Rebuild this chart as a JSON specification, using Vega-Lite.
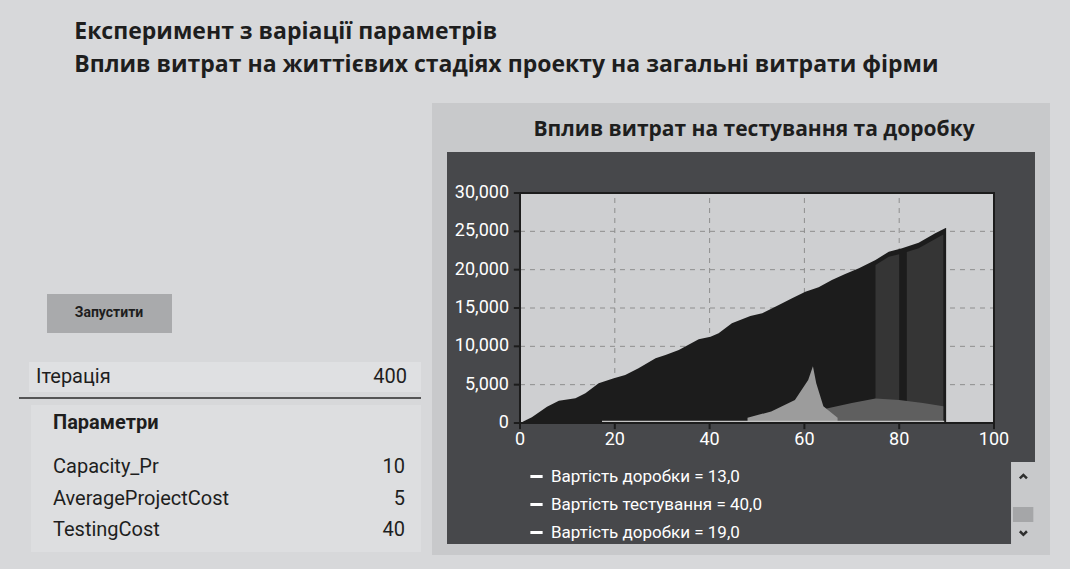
{
  "$schema": "https://vega.github.io/schema/vega-lite/v6.json",
  "background": "#d7d8da",
  "padding": {"left": 18, "top": 21, "right": 22, "bottom": 14},
  "autosize": {"type": "pad"},
  "config": {"view": {"stroke": null}, "font": "Roboto", "text": {"font": "Roboto", "color": "#1e1e1e"}},
  "title": {
    "text": ["Експеримент з варіації параметрів", "Вплив витрат на життієвих стадіях проекту на загальні витрати фірми"],
    "anchor": "start", "dx": 56, "offset": 26, "fontSize": 23, "fontWeight": "bold", "font": "Open Sans", "color": "#1e1e1e", "lineHeight": 33
  },
  "spacing": 10,
  "hconcat": [
    {
      "width": 402,
      "height": 452,
      "layer": [
        {
          "data": {"values": [{"label": "Ітерація", "value": 400}]},
          "layer": [
            {"mark": {"type": "rect", "color": "#a9aaac"},
             "encoding": {"x": {"datum": 28, "type": "quantitative", "scale": {"domain": [0, 402], "nice": false, "zero": false}, "axis": null}, "x2": {"datum": 153},
                          "y": {"datum": 191, "type": "quantitative", "scale": {"domain": [0, 452], "reverse": true, "nice": false, "zero": false}, "axis": null}, "y2": {"datum": 230}}},
            {"mark": {"type": "text", "text": "Запустити", "fontSize": 14, "fontWeight": "bold", "align": "center", "baseline": "middle"},
             "encoding": {"x": {"datum": 90, "type": "quantitative", "axis": null}, "y": {"datum": 210, "type": "quantitative", "axis": null}}},
            {"mark": {"type": "rect", "color": "#dfe0e2"},
             "encoding": {"x": {"datum": 10, "type": "quantitative", "axis": null}, "x2": {"datum": 402}, "y": {"datum": 259, "type": "quantitative", "axis": null}, "y2": {"datum": 289}}},
            {"mark": {"type": "text", "fontSize": 20, "align": "left", "baseline": "middle"},
             "encoding": {"x": {"datum": 17, "type": "quantitative", "axis": null}, "y": {"datum": 274, "type": "quantitative", "axis": null}, "text": {"field": "label"}}},
            {"mark": {"type": "text", "fontSize": 20, "align": "right", "baseline": "middle"},
             "encoding": {"x": {"datum": 388, "type": "quantitative", "axis": null}, "y": {"datum": 274, "type": "quantitative", "axis": null}, "text": {"field": "value"}}},
            {"mark": {"type": "rule", "color": "#2a2a2a", "strokeWidth": 1.5},
             "encoding": {"x": {"datum": 0, "type": "quantitative", "axis": null}, "x2": {"datum": 402}, "y": {"datum": 295, "type": "quantitative", "axis": null}}},
            {"mark": {"type": "rect", "color": "#dddee0"},
             "encoding": {"x": {"datum": 12, "type": "quantitative", "axis": null}, "x2": {"datum": 402}, "y": {"datum": 302, "type": "quantitative", "axis": null}, "y2": {"datum": 449}}},
            {"mark": {"type": "text", "text": "Параметри", "fontSize": 20, "fontWeight": "bold", "align": "left", "baseline": "middle"},
             "encoding": {"x": {"datum": 34, "type": "quantitative", "axis": null}, "y": {"datum": 320, "type": "quantitative", "axis": null}}}
          ]
        },
        {
          "data": {"values": [
            {"param": "Capacity_Pr", "value": 10},
            {"param": "AverageProjectCost", "value": 5},
            {"param": "TestingCost", "value": 40}
          ]},
          "layer": [
            {"transform": [{"filter": {"field": "param", "equal": "Capacity_Pr"}}],
             "mark": {"type": "text", "fontSize": 20, "align": "left", "baseline": "middle"},
             "encoding": {"x": {"datum": 34, "type": "quantitative", "axis": null}, "y": {"datum": 364, "type": "quantitative", "axis": null}, "text": {"field": "param"}}},
            {"transform": [{"filter": {"field": "param", "equal": "Capacity_Pr"}}],
             "mark": {"type": "text", "fontSize": 20, "align": "right", "baseline": "middle"},
             "encoding": {"x": {"datum": 386, "type": "quantitative", "axis": null}, "y": {"datum": 364, "type": "quantitative", "axis": null}, "text": {"field": "value"}}},
            {"transform": [{"filter": {"field": "param", "equal": "AverageProjectCost"}}],
             "mark": {"type": "text", "fontSize": 20, "align": "left", "baseline": "middle"},
             "encoding": {"x": {"datum": 34, "type": "quantitative", "axis": null}, "y": {"datum": 395.5, "type": "quantitative", "axis": null}, "text": {"field": "param"}}},
            {"transform": [{"filter": {"field": "param", "equal": "AverageProjectCost"}}],
             "mark": {"type": "text", "fontSize": 20, "align": "right", "baseline": "middle"},
             "encoding": {"x": {"datum": 386, "type": "quantitative", "axis": null}, "y": {"datum": 395.5, "type": "quantitative", "axis": null}, "text": {"field": "value"}}},
            {"transform": [{"filter": {"field": "param", "equal": "TestingCost"}}],
             "mark": {"type": "text", "fontSize": 20, "align": "left", "baseline": "middle"},
             "encoding": {"x": {"datum": 34, "type": "quantitative", "axis": null}, "y": {"datum": 427, "type": "quantitative", "axis": null}, "text": {"field": "param"}}},
            {"transform": [{"filter": {"field": "param", "equal": "TestingCost"}}],
             "mark": {"type": "text", "fontSize": 20, "align": "right", "baseline": "middle"},
             "encoding": {"x": {"datum": 386, "type": "quantitative", "axis": null}, "y": {"datum": 427, "type": "quantitative", "axis": null}, "text": {"field": "value"}}}
          ]
        }
      ]
    },
    {
      "width": 618,
      "height": 452,
      "view": {"fill": "#c8c9cb", "stroke": null},
      "title": {"text": "Вплив витрат на тестування та доробку", "fontSize": 21, "fontWeight": "bold", "font": "Open Sans", "color": "#1e1e1e", "anchor": "middle", "offset": -37, "dx": 13},
      "layer": [
        {
          "data": {"values": [{"panel": "chart"}]},
          "layer": [
            {"mark": {"type": "rect", "color": "#47484b"},
             "encoding": {"x": {"datum": -15.4, "type": "quantitative", "scale": {"domain": [-18.565, 111.814], "nice": false, "zero": false}, "axis": null}, "x2": {"datum": 108.65},
                          "y": {"datum": -5087, "type": "quantitative", "scale": {"domain": [-17217, 41739], "nice": false, "zero": false}, "axis": null}, "y2": {"datum": 35348}}},
            {"mark": {"type": "rect", "color": "#47484b"},
             "encoding": {"x": {"datum": -15.4, "type": "quantitative", "axis": null}, "x2": {"datum": 103.59}, "y": {"datum": -15783, "type": "quantitative", "axis": null}, "y2": {"datum": -5087}}},
            {"mark": {"type": "rect", "color": "#a5a6a8"},
             "encoding": {"x": {"datum": 104.0, "type": "quantitative", "axis": null}, "x2": {"datum": 108.3}, "y": {"datum": -10957, "type": "quantitative", "axis": null}, "y2": {"datum": -12913}}},
            {"mark": {"type": "point", "shape": "M-1,0.5L0,-0.5L1,0.5", "filled": false, "size": 50, "strokeWidth": 2.5, "color": "#2e2e2e", "opacity": 1},
             "encoding": {"x": {"datum": 106.2, "type": "quantitative", "axis": null}, "y": {"datum": -7000, "type": "quantitative", "axis": null}}},
            {"mark": {"type": "point", "shape": "M-1,-0.5L0,0.5L1,-0.5", "filled": false, "size": 50, "strokeWidth": 2.5, "color": "#2e2e2e", "opacity": 1},
             "encoding": {"x": {"datum": 106.2, "type": "quantitative", "axis": null}, "y": {"datum": -14350, "type": "quantitative", "axis": null}}},
            {"mark": {"type": "rect", "color": "#cecfd1"},
             "encoding": {"x": {"datum": 0, "type": "quantitative", "axis": null}, "x2": {"datum": 100}, "y": {"datum": 0, "type": "quantitative", "axis": null}, "y2": {"datum": 30000}}}
          ]
        },
        {
          "data": {"values": [{"v": 20}, {"v": 40}, {"v": 60}, {"v": 80}]},
          "mark": {"type": "rule", "color": "#8e8e8e", "strokeDash": [5, 5], "strokeWidth": 1},
          "encoding": {"x": {"field": "v", "type": "quantitative", "axis": null}, "y": {"datum": 0, "type": "quantitative", "axis": null}, "y2": {"datum": 30000}}
        },
        {
          "data": {"values": [{"v": 5000}, {"v": 10000}, {"v": 15000}, {"v": 20000}, {"v": 25000}]},
          "mark": {"type": "rule", "color": "#8e8e8e", "strokeDash": [5, 5], "strokeWidth": 1},
          "encoding": {"y": {"field": "v", "type": "quantitative", "axis": null}, "x": {"datum": 0, "type": "quantitative", "axis": null}, "x2": {"datum": 100}}
        },
        {
          "data": {"values": [{"v": 0}, {"v": 20}, {"v": 40}, {"v": 60}, {"v": 80}, {"v": 100}]},
          "layer": [
            {"mark": {"type": "rule", "color": "#1c1c1c", "strokeWidth": 2},
             "encoding": {"x": {"field": "v", "type": "quantitative", "axis": null}, "y": {"datum": 0, "type": "quantitative", "axis": null}, "y2": {"datum": -800}}},
            {"mark": {"type": "text", "color": "#ffffff", "fontSize": 18, "font": "Roboto", "align": "center", "baseline": "top", "dy": 8},
             "encoding": {"x": {"field": "v", "type": "quantitative", "axis": null}, "y": {"datum": 0, "type": "quantitative", "axis": null}, "text": {"field": "v", "type": "quantitative"}}}
          ]
        },
        {
          "data": {"values": [{"v": 0}, {"v": 5000}, {"v": 10000}, {"v": 15000}, {"v": 20000}, {"v": 25000}, {"v": 30000}]},
          "layer": [
            {"mark": {"type": "rule", "color": "#1c1c1c", "strokeWidth": 2},
             "encoding": {"y": {"field": "v", "type": "quantitative", "axis": null}, "x": {"datum": 0, "type": "quantitative", "axis": null}, "x2": {"datum": -1.3}}},
            {"mark": {"type": "text", "color": "#ffffff", "fontSize": 18, "font": "Roboto", "align": "right", "baseline": "middle", "dx": -11},
             "encoding": {"y": {"field": "v", "type": "quantitative", "axis": null}, "x": {"datum": 0, "type": "quantitative", "axis": null}, "text": {"field": "v", "type": "quantitative", "format": ","}}}
          ]
        },
        {
          "data": {"values": [
            {"series": "Вартість доробки = 13,0", "x": 0, "y": 0},
            {"series": "Вартість доробки = 13,0", "x": 20, "y": 4500},
            {"series": "Вартість доробки = 13,0", "x": 40, "y": 9500},
            {"series": "Вартість доробки = 13,0", "x": 60, "y": 14500},
            {"series": "Вартість доробки = 13,0", "x": 80, "y": 19000},
            {"series": "Вартість доробки = 13,0", "x": 89, "y": 21000},
            {"series": "Вартість тестування = 40,0", "x": 0, "y": 0},
            {"series": "Вартість тестування = 40,0", "x": 20, "y": 4000},
            {"series": "Вартість тестування = 40,0", "x": 40, "y": 9000},
            {"series": "Вартість тестування = 40,0", "x": 60, "y": 14000},
            {"series": "Вартість тестування = 40,0", "x": 80, "y": 18500},
            {"series": "Вартість тестування = 40,0", "x": 89, "y": 20500},
            {"series": "Вартість доробки = 19,0", "x": 0, "y": 0},
            {"series": "Вартість доробки = 19,0", "x": 20, "y": 3500},
            {"series": "Вартість доробки = 19,0", "x": 40, "y": 8500},
            {"series": "Вартість доробки = 19,0", "x": 60, "y": 13500},
            {"series": "Вартість доробки = 19,0", "x": 80, "y": 18000},
            {"series": "Вартість доробки = 19,0", "x": 89, "y": 20000}
          ]},
          "mark": {"type": "line", "strokeWidth": 1},
          "encoding": {
            "x": {"field": "x", "type": "quantitative", "axis": null},
            "y": {"field": "y", "type": "quantitative", "axis": null},
            "color": {"field": "series", "type": "nominal",
                      "scale": {"domain": ["Вартість доробки = 13,0", "Вартість тестування = 40,0", "Вартість доробки = 19,0"], "range": ["#ffffff", "#ffffff", "#ffffff"]},
                      "legend": {"orient": "none", "legendX": 509, "legendY": 365, "title": null, "padding": 0,
                                 "labelColor": "#ffffff", "labelFont": "Roboto", "labelFontSize": 17, "labelOffset": 6, "labelLimit": 0,
                                 "symbolType": "stroke", "symbolStrokeWidth": 3, "symbolSize": 150, "rowPadding": 10}}
          }
        },
        {
          "data": {"values": [
            {"x": 0, "y": 0}, {"x": 2.5, "y": 740}, {"x": 5.7, "y": 2130}, {"x": 8.2, "y": 2910}, {"x": 11.7, "y": 3220},
            {"x": 13.8, "y": 3870}, {"x": 16.6, "y": 5180}, {"x": 19.8, "y": 5830}, {"x": 22.2, "y": 6260}, {"x": 25, "y": 7130},
            {"x": 28.6, "y": 8430}, {"x": 30.7, "y": 8870}, {"x": 33.5, "y": 9520}, {"x": 37.7, "y": 10910}, {"x": 40.2, "y": 11260},
            {"x": 41.9, "y": 11700}, {"x": 44.7, "y": 13000}, {"x": 48.6, "y": 13960}, {"x": 51.1, "y": 14300}, {"x": 54.6, "y": 15390},
            {"x": 57.4, "y": 16260}, {"x": 60.2, "y": 17130}, {"x": 63, "y": 17700}, {"x": 65.8, "y": 18650}, {"x": 68.6, "y": 19430},
            {"x": 71.5, "y": 20170}, {"x": 75, "y": 21260}, {"x": 77.8, "y": 22340}, {"x": 80.6, "y": 22780}, {"x": 84.1, "y": 23520},
            {"x": 87.6, "y": 24740}, {"x": 89.9, "y": 25480}
          ]},
          "mark": {"type": "area", "color": "#1c1c1c"},
          "encoding": {
            "x": {"field": "x", "type": "quantitative", "axis": null},
            "y": {"field": "y", "type": "quantitative", "axis": null},
            "y2": {"datum": 0}
          }
        },
        {
          "data": {"values": [
            {"seg": "a", "x": 75, "lo": 700, "hi": 20600}, {"seg": "a", "x": 77.8, "lo": 700, "hi": 21700}, {"seg": "a", "x": 80, "lo": 700, "hi": 22000},
            {"seg": "b", "x": 81.6, "lo": 500, "hi": 22300}, {"seg": "b", "x": 84.1, "lo": 500, "hi": 22800}, {"seg": "b", "x": 87.6, "lo": 500, "hi": 24000}, {"seg": "b", "x": 89.3, "lo": 500, "hi": 24600}
          ]},
          "mark": {"type": "area", "color": "#353535"},
          "encoding": {
            "x": {"field": "x", "type": "quantitative", "axis": null},
            "y": {"field": "hi", "type": "quantitative", "axis": null},
            "y2": {"field": "lo"},
            "detail": {"field": "seg", "type": "nominal"}
          }
        },
        {
          "data": {"values": [
            {"x": 64, "lo": 250, "hi": 1800}, {"x": 70, "lo": 250, "hi": 2600}, {"x": 75, "lo": 250, "hi": 3200},
            {"x": 80, "lo": 250, "hi": 3000}, {"x": 85, "lo": 250, "hi": 2600}, {"x": 89.3, "lo": 250, "hi": 2200}
          ]},
          "mark": {"type": "area", "color": "#5f5f5f"},
          "encoding": {
            "x": {"field": "x", "type": "quantitative", "axis": null},
            "y": {"field": "hi", "type": "quantitative", "axis": null},
            "y2": {"field": "lo"}
          }
        },
        {
          "data": {"values": [
            {"x": 48, "lo": 250, "hi": 700}, {"x": 53, "lo": 250, "hi": 1500}, {"x": 58, "lo": 250, "hi": 3000}, {"x": 60.8, "lo": 250, "hi": 5600},
            {"x": 61.8, "lo": 250, "hi": 7400}, {"x": 62.5, "lo": 250, "hi": 5200}, {"x": 64, "lo": 250, "hi": 2200}, {"x": 67, "lo": 250, "hi": 700}
          ]},
          "mark": {"type": "area", "color": "#9c9c9c"},
          "encoding": {
            "x": {"field": "x", "type": "quantitative", "axis": null},
            "y": {"field": "hi", "type": "quantitative", "axis": null},
            "y2": {"field": "lo"}
          }
        },
        {
          "data": {"values": [{"x": 17.3, "y": 150}, {"x": 89.5, "y": 150}]},
          "mark": {"type": "line", "color": "#c4c4c4", "strokeWidth": 2},
          "encoding": {"x": {"field": "x", "type": "quantitative", "axis": null}, "y": {"field": "y", "type": "quantitative", "axis": null}}
        },
        {
          "data": {"values": [{"panel": "frame"}]},
          "mark": {"type": "rect", "filled": false, "stroke": "#1c1c1c", "strokeWidth": 2},
          "encoding": {"x": {"datum": 0, "type": "quantitative", "axis": null}, "x2": {"datum": 100}, "y": {"datum": 0, "type": "quantitative", "axis": null}, "y2": {"datum": 30000}}
        }
      ]
    }
  ]
}
